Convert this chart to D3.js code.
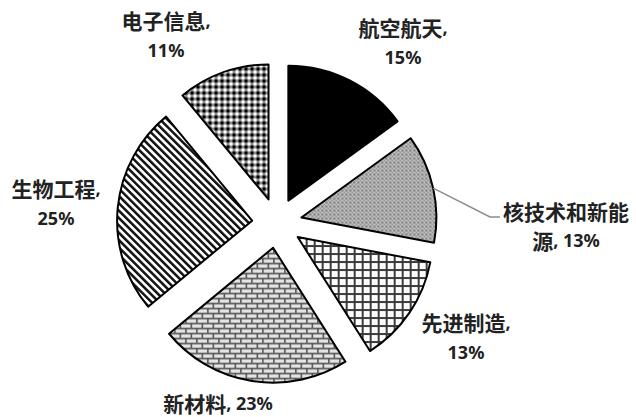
<!DOCTYPE html>
<html>
<head>
<meta charset="utf-8">
<script src="https://cdn.jsdelivr.net/npm/d3@7"></script>
<style>
  html, body { margin: 0; padding: 0; background: #fff; }
  svg { display: block; }
</style>
</head>
<body>
<svg id="chart" width="636" height="417"></svg>
<script>
// ---- data ----
const categories = ["航空航天", "核技术和新能源", "先进制造", "新材料", "生物工程", "电子信息"];
const values = [15, 13, 13, 23, 25, 11];
// where each label breaks into two lines (number of characters on line 1, -1 = one line)
const labelBreaks = [5, 6, 5, -1, 5, 5];
// label anchor positions (layout)
const labelPos = [[403, 27], [566, 211], [466, 322], [218, 403], [56, 188], [166, 20]];
const labelLineGap = [30, 29, 30, 0, 30, 30];
const patternIds = ["solid", "dots", "grid", "brick", "stripes", "checker"];

// ---- layout ----
const W = 636, H = 417;
const cx = 277, cy = 223, R = 135, explode = 25;

const svg = d3.select("#chart");
const defs = svg.append("defs");

// patterns
let p = defs.append("pattern").attr("id", "dots").attr("patternUnits", "userSpaceOnUse")
  .attr("width", 4).attr("height", 4);
p.append("rect").attr("width", 4).attr("height", 4).attr("fill", "#c4c4c4");
p.append("rect").attr("x", 0).attr("y", 0).attr("width", 2).attr("height", 2).attr("fill", "#7a7a7a");
p.append("rect").attr("x", 2).attr("y", 2).attr("width", 2).attr("height", 2).attr("fill", "#9a9a9a");

p = defs.append("pattern").attr("id", "grid").attr("patternUnits", "userSpaceOnUse")
  .attr("width", 8).attr("height", 8);
p.append("rect").attr("width", 8).attr("height", 8).attr("fill", "#fff");
p.append("rect").attr("x", 0).attr("y", 0).attr("width", 8).attr("height", 2).attr("fill", "#3a3a3a");
p.append("rect").attr("x", 0).attr("y", 0).attr("width", 2).attr("height", 8).attr("fill", "#3a3a3a");

p = defs.append("pattern").attr("id", "brick").attr("patternUnits", "userSpaceOnUse")
  .attr("width", 11).attr("height", 10);
p.append("rect").attr("width", 11).attr("height", 10).attr("fill", "#e4e4e4");
p.append("rect").attr("x", 0).attr("y", 0).attr("width", 11).attr("height", 1.6).attr("fill", "#555");
p.append("rect").attr("x", 0).attr("y", 5).attr("width", 11).attr("height", 1.6).attr("fill", "#555");
p.append("rect").attr("x", 0).attr("y", 0).attr("width", 1.6).attr("height", 5).attr("fill", "#555");
p.append("rect").attr("x", 5.5).attr("y", 5).attr("width", 1.6).attr("height", 5).attr("fill", "#555");

p = defs.append("pattern").attr("id", "stripes").attr("patternUnits", "userSpaceOnUse")
  .attr("width", 5.2).attr("height", 10).attr("patternTransform", "rotate(-45)");
p.append("rect").attr("width", 5.2).attr("height", 10).attr("fill", "#fff");
p.append("rect").attr("x", 0).attr("y", 0).attr("width", 2.5).attr("height", 10).attr("fill", "#111");

p = defs.append("pattern").attr("id", "checker").attr("patternUnits", "userSpaceOnUse")
  .attr("width", 6).attr("height", 6);
p.append("rect").attr("width", 6).attr("height", 6).attr("fill", "#8a8a8a");
p.append("rect").attr("x", 0).attr("y", 0).attr("width", 3).attr("height", 3).attr("fill", "#000");
p.append("rect").attr("x", 3).attr("y", 3).attr("width", 3).attr("height", 3).attr("fill", "#fff");

const fillFor = id => id === "solid" ? "#000" : `url(#${id})`;

const pie = d3.pie().sort(null).value(d => d).startAngle(0).endAngle(2 * Math.PI);
const arcs = pie(values);
const arc = d3.arc().innerRadius(0).outerRadius(R);

const g = svg.append("g").attr("transform", `translate(${cx},${cy})`);
const mid = a => (a.startAngle + a.endAngle) / 2;

g.selectAll("path.slice")
  .data(arcs)
  .join("path")
  .attr("class", "slice")
  .attr("transform", d => {
    const m = mid(d);
    return `translate(${Math.sin(m) * explode},${-Math.cos(m) * explode})`;
  })
  .attr("d", arc)
  .attr("fill", (d, i) => fillFor(patternIds[i]))
  .attr("stroke", "#000")
  .attr("stroke-width", 2)
  .attr("stroke-linejoin", "round");

// leader line for 核技术和新能源
{
  const i = 1;
  const m = mid(arcs[i]);
  const sx = cx + Math.sin(m) * (R + explode);
  const sy = cy - Math.cos(m) * (R + explode);
  const ex = labelPos[i][0] - 66;
  const ey = labelPos[i][1] + 6;
  svg.append("polyline")
    .attr("points", `${sx},${sy} ${ex - 10},${ey} ${ex},${ey}`)
    .attr("fill", "none")
    .attr("stroke", "#8c8c8c")
    .attr("stroke-width", 1.5);
}

// labels
const isCJK = ch => /[\u3400-\u9fff]/.test(ch);
function runs(str) {
  const out = [];
  for (const ch of str) {
    const c = isCJK(ch);
    if (out.length && out[out.length - 1].cjk === c) out[out.length - 1].t += ch;
    else out.push({ t: ch, cjk: c });
  }
  return out;
}

categories.forEach((cat, i) => {
  const full = `${cat}, ${values[i]}%`;
  const b = labelBreaks[i];
  const lines = b < 0 ? [full] : [full.slice(0, b).trim(), full.slice(b).trim()];
  lines.forEach((ln, k) => {
    const t = svg.append("text")
      .attr("x", labelPos[i][0])
      .attr("y", labelPos[i][1] + k * labelLineGap[i])
      .attr("text-anchor", "middle")
      .attr("dominant-baseline", "central")
      .attr("fill", "#222")
      .attr("font-weight", "bold");
    runs(ln).forEach(r => {
      t.append("tspan")
        .attr("font-family", r.cjk ? "'Noto Sans CJK SC'" : "'Noto Sans', 'Noto Sans CJK SC'")
        .attr("font-size", r.cjk ? 21 : 18)
        .text(r.t);
    });
  });
});
</script>
</body>
</html>
